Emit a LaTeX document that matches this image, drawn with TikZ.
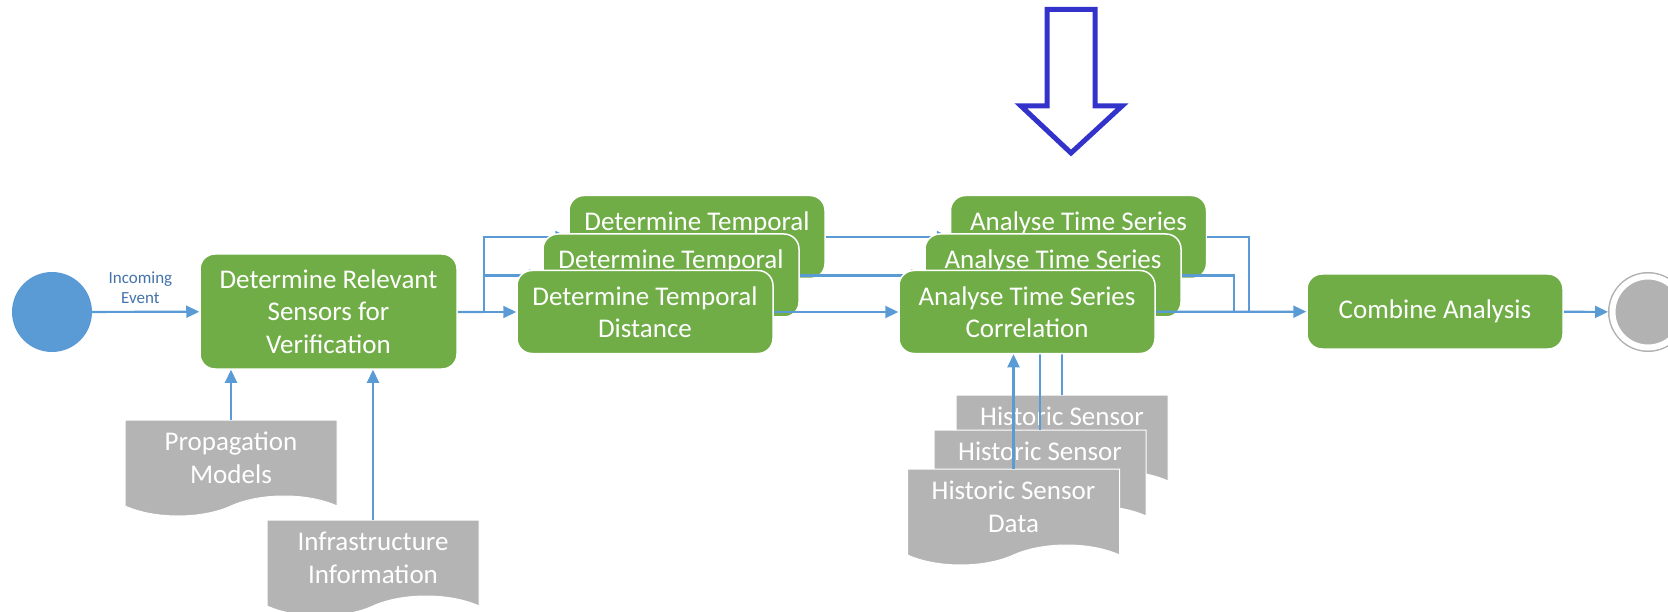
\documentclass[tikz,border=0pt]{standalone}
\usepackage{fontspec}
\setmainfont{Carlito}
\usetikzlibrary{arrows.meta}
\usetikzlibrary{shapes.symbols}
\usetikzlibrary{positioning}
\definecolor{taskgreen}{RGB}{112,173,71}
\definecolor{flowblue}{RGB}{91,155,213}
\definecolor{docgray}{RGB}{180,180,180}
\definecolor{ringgray}{RGB}{178,178,178}
\definecolor{arrowblue}{RGB}{51,51,204}
\definecolor{labelblue}{RGB}{68,114,170}

\begin{document}
\begin{tikzpicture}[x=1pt,y=-1pt,
  task/.style={rectangle,rounded corners=15pt,fill=taskgreen,draw=white,line width=1.5pt,
    text=white,align=center,minimum width=256pt,minimum height=83pt,
    font=\fontsize{27}{32.5}\selectfont},
  datadoc/.style={tape,tape bend top=none,tape bend bottom=in and out,tape bend height=20pt,
    fill=docgray,draw=white,line width=1pt,text=white,align=center,
    minimum width=212pt,minimum height=96pt,font=\fontsize{27}{33}\selectfont},
  flow/.style={draw=flowblue,line width=2.2pt},
  flowarrow/.style={flow,-{Triangle[length=13pt,width=12pt]}}]
  \useasboundingbox (0,0) rectangle (1668,612);

  % big hollow arrow on top
  \draw[arrowblue,line width=5pt,fill=white] (1047,9.5) -- (1095,9.5) -- (1095,106)
    -- (1122,106) -- (1071,153) -- (1021,106) -- (1047,106) -- cycle;

  % start, first step and its inputs
  \node[circle,fill=flowblue,minimum size=80pt,inner sep=0pt] (start) at (52,312) {};
  \node[task,minimum width=257pt,minimum height=115pt] (rel) at (328.5,311.5)
    {Determine Relevant\\Sensors for\\Verification};
  \node[datadoc] (prop) at (231,458) {Propagation\\Models};
  \node[datadoc] (infra) at (373,558) {Infrastructure\\Information};
  \draw[flowarrow] (start) -- node[pos=0.45,above=4pt,text=labelblue,align=center,
    font=\fontsize{17}{20}\selectfont] {Incoming\\Event} (rel);
  \draw[flowarrow] (prop.north) -- (prop.north |- rel.south);
  \draw[flowarrow] (infra.north) -- (infra.north |- rel.south);
  \coordinate (split) at (484,312);
  \draw[flow] (rel) -- (split);

  % back layer
  \node[task] (dtd3) at (697,237) {Determine Temporal\\Distance};
  \node[task] (ats3) at (1078.5,237) {Analyse Time Series\\Correlation};
  \node[datadoc] (hist3) at (1062,433) {Historic Sensor\\Data};
  \coordinate (join3) at (1249,312);
  \draw[flowarrow] (split) |- (dtd3);
  \draw[flowarrow] (dtd3) -- (ats3);
  \draw[flow] (ats3) -| (join3);
  \draw[flowarrow] (hist3.north) -- (hist3.north |- ats3.south);

  % middle layer
  \node[task] (dtd2) at (671,275.5) {Determine Temporal\\Distance};
  \node[task] (ats2) at (1053,275.5) {Analyse Time Series\\Correlation};
  \node[datadoc] (hist2) at (1040,468) {Historic Sensor\\Data};
  \coordinate (join2) at (1234,312);
  \draw[flowarrow] (split) |- (dtd2);
  \draw[flowarrow] (dtd2) -- (ats2);
  \draw[flow] (ats2) -| (join2);
  \draw[flowarrow] (hist2.north) -- (hist2.north |- ats2.south);

  % front layer
  \node[task] (dtd1) at (645,312) {Determine Temporal\\Distance};
  \node[task] (ats1) at (1027,312) {Analyse Time Series\\Correlation};
  \node[datadoc] (hist1) at (1013.5,507) {Historic Sensor\\Data};
  \draw[flowarrow] (split) -- (dtd1);
  \draw[flowarrow] (dtd1) -- (ats1);
  \draw[flowarrow] (hist1.north) -- (hist1.north |- ats1.south);

  % combine and end
  \node[task,minimum height=75pt] (comb) at (1435,311.5) {Combine Analysis};
  \node[circle,fill=ringgray,draw=ringgray,double=white,double distance=6pt,
    line width=1.5pt,minimum size=71pt,inner sep=0pt,outer sep=4.5pt] (end) at (1648,312) {};
  \draw[flowarrow] (ats1) -- (comb);
  \draw[flowarrow] (comb) -- (end);
\end{tikzpicture}
\end{document}
